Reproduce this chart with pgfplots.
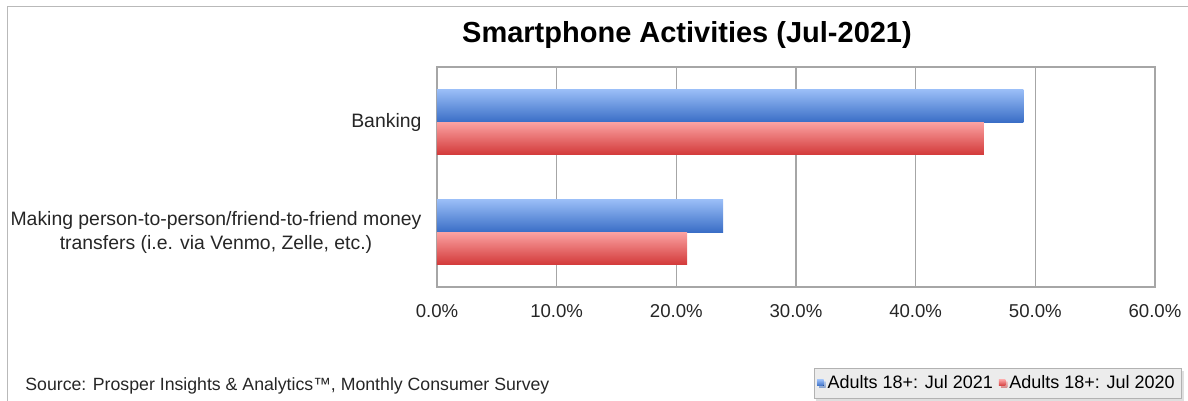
\documentclass[border=0pt]{standalone}
\usepackage{fontspec}
\setmainfont{Liberation Sans}
\usepackage{pgfplots}
\pgfplotsset{compat=1.18}
\usetikzlibrary{shadows}
\definecolor{bluetop}{HTML}{9ABEF7}
\definecolor{bluemid}{HTML}{6A98E2}
\definecolor{bluebot}{HTML}{3A6EC6}
\definecolor{redtop}{HTML}{FBA3A3}
\definecolor{redmid}{HTML}{EE7878}
\definecolor{redbot}{HTML}{D33A3A}
\definecolor{gridgray}{HTML}{A6A6A6}
\begin{document}
\begin{tikzpicture}
\path[use as bounding box] (0,0) rectangle (594pt,200.5pt);
\draw[gray!55, line width=0.9pt] (3.75pt,0) -- (3.75pt,197.25pt) -- (594pt,197.25pt);
\node[font=\fontsize{14.5}{17}\selectfont\bfseries] at (343.5pt,183pt) {Smartphone Activities (Jul-2021)};
\node[anchor=west, font=\fontsize{8.85}{11}\selectfont, inner sep=0pt, text=black!85] at (12.5pt,7.5pt) {Source: Prosper Insights \& Analytics™, Monthly Consumer Survey};
\begin{axis}[
 at={(218.5pt,57pt)}, anchor=south west,
 width=359pt, height=110pt, scale only axis,
 xbar, bar width=16.25pt,
 xmin=0, xmax=60, xtick={0,10,...,60},
 xticklabels={0.0\%,10.0\%,20.0\%,30.0\%,40.0\%,50.0\%,60.0\%},
 ymin=-0.5, ymax=1.5, y dir=reverse,
 ytick={0,1},
 yticklabels={Banking, {Making person-to-person/friend-to-friend money\\transfers (i.e. via Venmo, Zelle, etc.)}},
 yticklabel style={align=center, font=\fontsize{9.7}{12}\selectfont, text=black!85},
 xticklabel style={font=\fontsize{9.3}{11}\selectfont, yshift=-5pt, text=black!85},
 xmajorgrids, grid style={gridgray, line width=0.6pt},
 axis line style={gridgray, line width=0.6pt},
 tick style={draw=none},
 legend columns=2,
 legend style={at={(1.0376,-0.509)}, anchor=south east, fill=gray!15, draw=gray!60,
   drop shadow={shadow xshift=1pt, shadow yshift=-1pt, fill=gray!50},
   font=\fontsize{9}{11}\selectfont, inner sep=1.5pt,
   /tikz/every even column/.append style={column sep=1pt}},
 legend image code/.code={\fill[#1, draw=none] (0pt,-1.2pt) rectangle (3.2pt,2pt);},
]
\addplot[draw=none, top color=bluetop, middle color=bluemid, bottom color=bluebot, bar shift=8.125pt]
  coordinates {(49.0,0)};
\addlegendentry{Adults 18+: Jul 2021}
\addplot[draw=none, top color=redtop, middle color=redmid, bottom color=redbot, bar shift=-8.125pt]
  coordinates {(45.7,0)};
\addlegendentry{Adults 18+: Jul 2020}
\addplot[forget plot, draw=none, top color=bluetop, middle color=bluemid, bottom color=bluebot, bar shift=8.125pt]
  coordinates {(23.9,1)};
\addplot[forget plot, draw=none, top color=redtop, middle color=redmid, bottom color=redbot, bar shift=-8.125pt]
  coordinates {(20.9,1)};
\end{axis}
\end{tikzpicture}
\end{document}
